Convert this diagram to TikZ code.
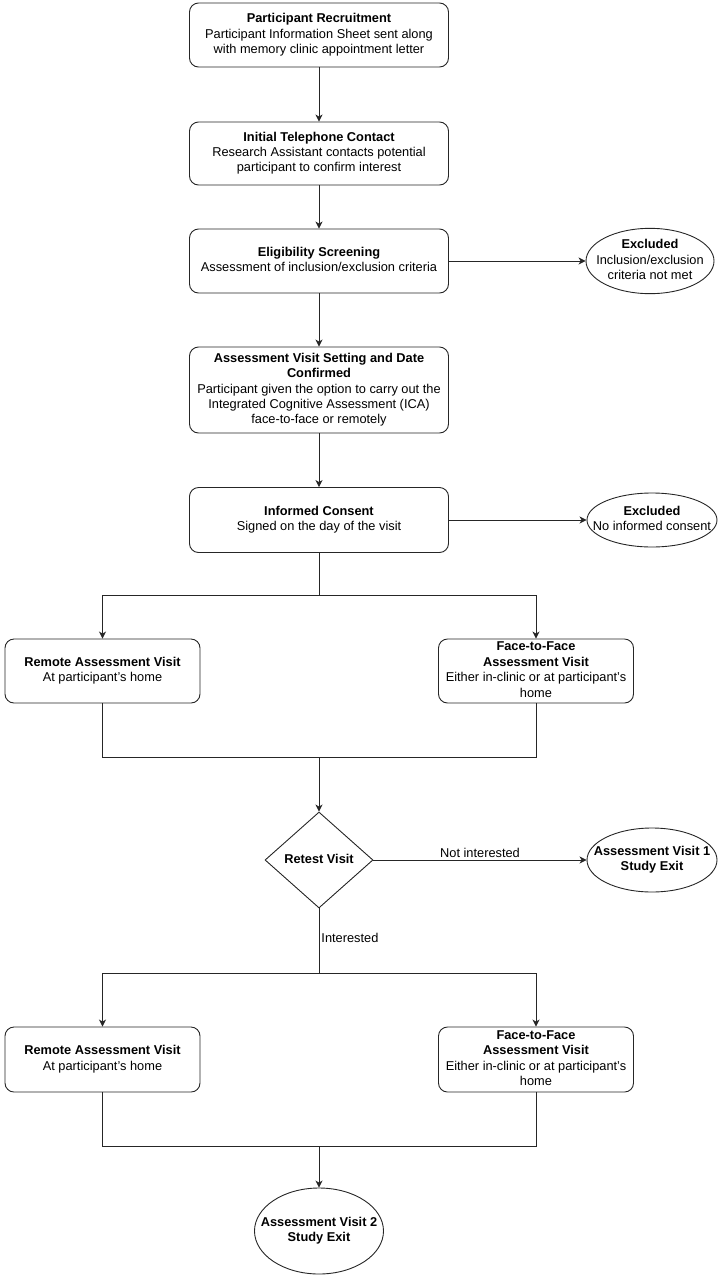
\documentclass[tikz,border=0pt]{standalone}
\usepackage{fontspec}
\setmainfont{Liberation Sans}
\usetikzlibrary{shapes.geometric,arrows.meta}
\newcommand{\ztx}[1]{\makebox[0pt]{\raisebox{-1.5pt}{\begin{tabular}{@{}c@{}}#1\end{tabular}}}}
\begin{document}
\begin{tikzpicture}[x=1pt,y=-1pt,
  base/.style={draw=black!85, line width=0.9pt, inner sep=0pt, text=black,
    font=\fontsize{12.8}{15.4}\selectfont},
  box/.style={base, rectangle, rounded corners=9pt, minimum width=259pt, minimum height=#1},
  sbox/.style={base, rectangle, rounded corners=9pt, minimum width=195pt, minimum height=#1},
  ell/.style={base, ellipse},
  dia/.style={base, diamond, minimum width=108pt, minimum height=96pt},
  ln/.style={draw=black!85, line width=0.9pt},
  arr/.style={ln, -{Stealth[length=7pt,width=7pt,inset=2pt]}},
  lbl/.style={font=\fontsize{12.8}{15.4}\selectfont, inner sep=2pt, text=black}
]
\useasboundingbox (0,0) rectangle (724,1280);

\node[box=64pt] (b1) at (319,35) {\ztx{\textbf{Participant Recruitment}\\Participant Information Sheet sent along\\with memory clinic appointment letter}};
\node[box=63pt] (b2) at (319,153.5) {\ztx{\textbf{Initial Telephone Contact}\\Research Assistant contacts potential\\participant to confirm interest}};
\node[box=64pt] (b3) at (319,261) {\ztx{\textbf{Eligibility Screening}\\Assessment of inclusion/exclusion criteria}};
\node[box=86pt] (b4) at (319,390) {\ztx{\textbf{Assessment Visit Setting and Date}\\\textbf{Confirmed}\\Participant given the option to carry out the\\Integrated Cognitive Assessment (ICA)\\face-to-face or remotely}};
\node[box=65pt] (b5) at (319,520) {\ztx{\textbf{Informed Consent}\\Signed on the day of the visit}};

\node[ell, minimum width=128pt, minimum height=64pt] (ex1) at (650,261) {\ztx{\textbf{Excluded}\\Inclusion/exclusion\\criteria not met}};
\node[ell, minimum width=130pt, minimum height=54pt] (ex2) at (652,520) {\ztx{\textbf{Excluded}\\No informed consent}};

\node[sbox=64pt] (r1) at (102.5,671) {\ztx{\textbf{Remote Assessment Visit}\\At participant's home}};
\node[sbox=64pt] (f1) at (536,671) {\ztx{\textbf{Face-to-Face}\\\textbf{Assessment Visit}\\Either in-clinic or at participant's\\home}};

\node[dia] (d) at (319,860) {\ztx{\textbf{Retest Visit}}};
\node[ell, minimum width=130pt, minimum height=64pt] (av1) at (652,860) {\ztx{\textbf{Assessment Visit 1}\\\textbf{Study Exit}}};

\node[sbox=65pt] (r2) at (102.5,1059.5) {\ztx{\textbf{Remote Assessment Visit}\\At participant's home}};
\node[sbox=65pt] (f2) at (536,1059.5) {\ztx{\textbf{Face-to-Face}\\\textbf{Assessment Visit}\\Either in-clinic or at participant's\\home}};

\node[ell, minimum width=129pt, minimum height=86pt] (av2) at (319,1231) {\ztx{\textbf{Assessment Visit 2}\\\textbf{Study Exit}}};

\coordinate (s1) at (319,595);
\coordinate (m1) at (319,757);
\coordinate (s2) at (319,973);
\coordinate (m2) at (319,1146);

\draw[arr] (b1) -- (b2);
\draw[arr] (b2) -- (b3);
\draw[arr] (b3) -- (b4);
\draw[arr] (b4) -- (b5);
\draw[arr] (b3) -- (ex1);
\draw[arr] (b5) -- (ex2);

\draw[ln] (b5) -- (s1);
\draw[arr] (s1) -| (r1);
\draw[arr] (s1) -| (f1);
\draw[ln] (r1) |- (m1);
\draw[ln] (f1) |- (m1);
\draw[arr] (m1) -- (d);

\draw[arr] (d) -- node[lbl, above] (ni) {Not interested} (av1);
\draw[ln] (d) -- node[lbl, pos=0.45, right] (yi) {Interested} (s2);

\draw[arr] (s2) -| (r2);
\draw[arr] (s2) -| (f2);
\draw[ln] (r2) |- (m2);
\draw[ln] (f2) |- (m2);
\draw[arr] (m2) -- (av2);
\end{tikzpicture}
\end{document}
